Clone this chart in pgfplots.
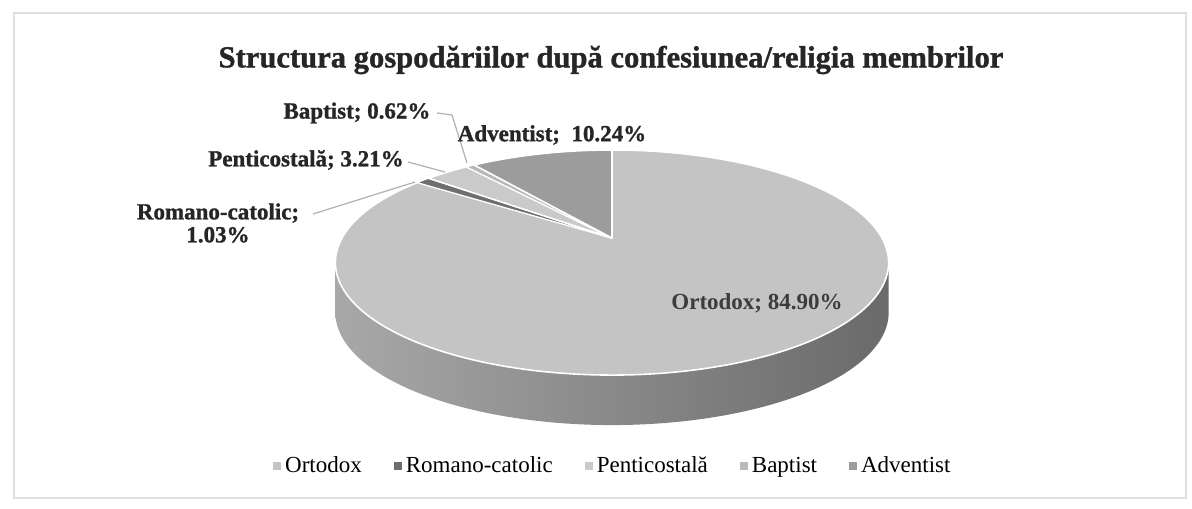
\documentclass[border=0pt]{standalone}
\usepackage{fontspec}
\setmainfont{Liberation Serif}
\newfontfamily\heavyfont{Liberation Serif}[BoldFeatures={FakeBold=1.2}]
\usepackage{pgfplots}
\usepackage{pgfplotstable}
\pgfplotsset{compat=1.18}
\definecolor{cOrt}{HTML}{C4C4C4}
\definecolor{cRom}{HTML}{6E6E6E}
\definecolor{cPen}{HTML}{CACACA}
\definecolor{cBap}{HTML}{B8B8B8}
\definecolor{cAdv}{HTML}{9C9C9C}
\definecolor{sideL}{HTML}{A8A8A8}
\definecolor{sideR}{HTML}{6A6A6A}
\definecolor{leader}{HTML}{B0B0B0}
\definecolor{inlbl}{HTML}{3C3C3C}

\pgfplotstableread{
name value
Ortodox 84.90
Romano-catolic 1.03
Penticostala 3.21
Baptist 0.62
Adventist 10.24
}\piedata
\pgfplotstablegetelem{0}{value}\of\piedata\let\vA\pgfplotsretval%
\pgfplotstablegetelem{1}{value}\of\piedata\let\vB\pgfplotsretval%
\pgfplotstablegetelem{2}{value}\of\piedata\let\vC\pgfplotsretval%
\pgfplotstablegetelem{3}{value}\of\piedata\let\vD\pgfplotsretval%
\pgfplotstablegetelem{4}{value}\of\piedata\let\vE\pgfplotsretval%
\pgfmathsetmacro\tA{\vA*3.6}%
\pgfmathsetmacro\tB{\tA+\vB*3.6}%
\pgfmathsetmacro\tC{\tB+\vC*3.6}%
\pgfmathsetmacro\tD{\tC+\vD*3.6}%
\pgfmathsetmacro\tE{\tD+\vE*3.6}%

\begin{document}%
\begin{tikzpicture}
\begin{axis}[
  scale only axis, width=596pt, height=254pt,
  xmin=0, xmax=1192, ymin=0, ymax=508,
  hide axis, clip=false,
  declare function={px(\t)=612+270*sin(\t)/(1+0.218*cos(\t));
                    py(\t)=270+107.2*cos(\t)/(1+0.218*cos(\t));},
  legend columns=5,
  legend style={at={(0.515,0.0827)}, anchor=center, draw=none, fill=none,
    font=\fontsize{11.5}{13}\selectfont,
    /tikz/every even column/.append style={column sep=14pt}},
  legend image code/.code={\fill[#1,draw=none] (0pt,-2pt) rectangle (4pt,2pt);},
]
% chart frame
\draw[black!12, line width=0.8pt] (axis cs:14,10) rectangle (axis cs:1186,495);

% side of the pie
\addplot[forget plot, draw=none, left color=sideL, right color=sideR,
  domain=102.6:257.4, samples=120]
  ({px(x)},{py(x)-50}) -- (axis cs:335.3,245.5) -- (axis cs:888.7,245.5) -- cycle;

% top face wedges
\addplot[fill=cOrt, draw=white, line width=0.8pt, line join=round, domain=0:\tA, samples=180]
  ({px(x)},{py(x)}) -- (axis cs:612,270) -- cycle;
\addlegendentry{Ortodox}
\addplot[fill=cRom, draw=white, line width=0.5pt, line join=round, domain=\tA:\tB, samples=6]
  ({px(x)},{py(x)}) -- (axis cs:612,270) -- cycle;
\addlegendentry{Romano-catolic}
\addplot[fill=cPen, draw=white, line width=0.8pt, line join=round, domain=\tB:\tC, samples=12]
  ({px(x)},{py(x)}) -- (axis cs:612,270) -- cycle;
\addlegendentry{Penticostală}
\addplot[fill=cBap, draw=white, line width=0.5pt, line join=round, domain=\tC:\tD, samples=5]
  ({px(x)},{py(x)}) -- (axis cs:612,270) -- cycle;
\addlegendentry{Baptist}
\addplot[fill=cAdv, draw=white, line width=0.8pt, line join=round, domain=\tD:\tE, samples=40]
  ({px(x)},{py(x)}) -- (axis cs:612,270) -- cycle;
\addlegendentry{Adventist}

% leader lines
\draw[leader, line width=0.6pt] (axis cs:437,395) -- (axis cs:452,393) -- (axis cs:467,345);
\draw[leader, line width=0.6pt] (axis cs:408,346) -- (axis cs:445,336);
\draw[leader, line width=0.6pt] (axis cs:313,294) -- (axis cs:415,326);

% title
\node[font=\heavyfont\bfseries\fontsize{15.3}{18}\selectfont, text=black!85] at (axis cs:611,448)
  {Structura gospodăriilor după confesiunea/religia membrilor};

% data labels
\node[font=\heavyfont\bfseries\fontsize{11.5}{13}\selectfont, text=black!85] at (axis cs:357,395) {Baptist; 0.62\%};
\node[font=\heavyfont\bfseries\fontsize{11.5}{13}\selectfont, text=black!85] at (axis cs:552,373) {Adventist;\ \ 10.24\%};
\node[font=\heavyfont\bfseries\fontsize{11.5}{13}\selectfont, text=black!85] at (axis cs:306,348) {Penticostală; 3.21\%};
\node[font=\heavyfont\bfseries\fontsize{11.5}{11.5}\selectfont, text=black!85, align=center] at (axis cs:218,285) {Romano-catolic;\\1.03\%};
\node[font=\bfseries\fontsize{11.5}{13}\selectfont, text=inlbl] at (axis cs:757,205) {Ortodox; 84.90\%};
\end{axis}
\pgfresetboundingbox
\path (current axis.south west) rectangle (current axis.north east);
\end{tikzpicture}%
\end{document}
